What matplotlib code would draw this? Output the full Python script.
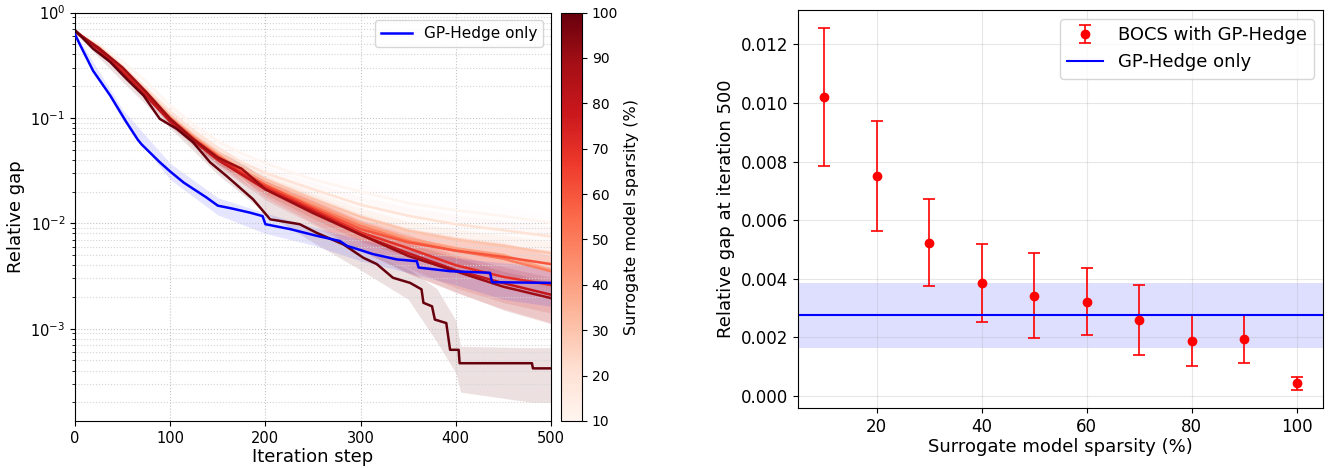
import numpy as np
import matplotlib.pyplot as plt
from matplotlib import cm, colors

# %% data
sparsity = [10, 20, 30, 40, 50, 60, 70, 80, 90]
iters = [0, 25, 50, 75, 100, 125, 150, 175, 200, 250, 300, 350, 400, 450, 500]
gap = {
    10: [0.66, 0.50, 0.34, 0.22, 0.13, 0.085, 0.060, 0.046, 0.037, 0.026, 0.020, 0.0155, 0.0133, 0.0117, 0.0101],
    20: [0.65, 0.48, 0.31, 0.19, 0.115, 0.075, 0.052, 0.038, 0.030, 0.021, 0.015, 0.0118, 0.0098, 0.0086, 0.0075],
    30: [0.65, 0.47, 0.30, 0.18, 0.105, 0.068, 0.047, 0.034, 0.026, 0.017, 0.0115, 0.0085, 0.0070, 0.0061, 0.0052],
    40: [0.65, 0.46, 0.29, 0.175, 0.100, 0.066, 0.045, 0.032, 0.024, 0.0155, 0.0100, 0.0072, 0.0058, 0.0050, 0.0036],
    50: [0.66, 0.46, 0.29, 0.17, 0.100, 0.064, 0.044, 0.031, 0.023, 0.0145, 0.0094, 0.0068, 0.0055, 0.0046, 0.0035],
    60: [0.66, 0.45, 0.28, 0.17, 0.098, 0.063, 0.043, 0.031, 0.023, 0.0140, 0.0088, 0.0066, 0.0055, 0.0048, 0.0041],
    70: [0.67, 0.45, 0.28, 0.165, 0.095, 0.062, 0.042, 0.030, 0.022, 0.0135, 0.0082, 0.0058, 0.0040, 0.0031, 0.0026],
    80: [0.67, 0.44, 0.27, 0.16, 0.092, 0.060, 0.040, 0.029, 0.021, 0.0130, 0.0078, 0.0052, 0.0036, 0.0027, 0.0021],
    90: [0.66, 0.46, 0.30, 0.175, 0.098, 0.062, 0.042, 0.033, 0.021, 0.0125, 0.0078, 0.0049, 0.0035, 0.0025, 0.00195],
}
# relative half-width of the shaded band
spread = {
    10: [0.03, 0.04, 0.05, 0.07, 0.09, 0.10, 0.12, 0.14, 0.15, 0.17, 0.19, 0.20, 0.21, 0.22, 0.23],
    20: [0.03, 0.04, 0.05, 0.07, 0.09, 0.10, 0.12, 0.14, 0.15, 0.17, 0.19, 0.21, 0.22, 0.24, 0.25],
    30: [0.03, 0.04, 0.05, 0.07, 0.09, 0.11, 0.13, 0.15, 0.17, 0.19, 0.21, 0.23, 0.25, 0.27, 0.29],
    40: [0.03, 0.04, 0.05, 0.07, 0.09, 0.11, 0.13, 0.15, 0.18, 0.21, 0.24, 0.27, 0.30, 0.33, 0.35],
    50: [0.03, 0.04, 0.05, 0.07, 0.09, 0.11, 0.13, 0.16, 0.19, 0.23, 0.27, 0.31, 0.35, 0.39, 0.42],
    60: [0.03, 0.04, 0.05, 0.07, 0.09, 0.11, 0.13, 0.15, 0.18, 0.21, 0.24, 0.27, 0.30, 0.33, 0.35],
    70: [0.03, 0.04, 0.05, 0.07, 0.09, 0.11, 0.14, 0.17, 0.20, 0.25, 0.30, 0.35, 0.39, 0.43, 0.46],
    80: [0.03, 0.04, 0.05, 0.07, 0.09, 0.11, 0.14, 0.17, 0.20, 0.25, 0.30, 0.35, 0.39, 0.43, 0.46],
    90: [0.03, 0.04, 0.05, 0.07, 0.09, 0.11, 0.14, 0.17, 0.20, 0.24, 0.28, 0.32, 0.36, 0.40, 0.43],
}

it100 = [0, 19, 37, 54, 72, 89, 107, 124, 142, 159, 177, 187, 205, 236, 254, 282, 303, 317, 334,
         352, 364, 366, 375, 378, 390, 394, 403, 404, 480, 481, 500]
gap100 = [0.68, 0.454, 0.339, 0.235, 0.163, 0.098, 0.0785, 0.0587, 0.0378, 0.0282, 0.0203, 0.0169,
          0.0109, 0.0098, 0.0081, 0.0063, 0.0047, 0.0041, 0.00304, 0.00272, 0.00236, 0.00176, 0.00163,
          0.00122, 0.00113, 0.00063, 0.00063, 0.00047, 0.00047, 0.00042, 0.00042]
band100_it = [0, 50, 100, 150, 200, 250, 300, 350, 380, 400, 405, 480, 500]
band100_lo = [0.64, 0.22, 0.080, 0.029, 0.0125, 0.0066, 0.0036, 0.0019, 0.00075, 0.00038, 0.00025, 0.00020, 0.00020]
band100_hi = [0.72, 0.27, 0.110, 0.040, 0.0170, 0.0095, 0.0058, 0.0037, 0.0024, 0.0012, 0.00068, 0.00066, 0.00066]

it_gp = [0, 5, 19, 37, 54, 66, 70, 89, 100, 114, 125, 138, 150, 165, 184, 197, 200, 226, 254,
         278, 286, 313, 338, 359, 361, 394, 436, 438, 500]
gap_gp = [0.62, 0.50, 0.28, 0.163, 0.091, 0.062, 0.056, 0.038, 0.031, 0.0244, 0.021, 0.0176, 0.0147,
          0.0138, 0.0126, 0.0117, 0.0098, 0.0088, 0.0076, 0.0068, 0.0061, 0.0051, 0.00454, 0.00437,
          0.0038, 0.00351, 0.00339, 0.00276, 0.00272]
band_gp_it = [0, 50, 100, 150, 200, 250, 300, 350, 400, 450, 500]
band_gp_lo = [0.60, 0.095, 0.026, 0.0120, 0.0080, 0.0062, 0.0044, 0.0034, 0.0026, 0.0019, 0.00163]
band_gp_hi = [0.64, 0.120, 0.037, 0.0175, 0.0125, 0.0092, 0.0070, 0.0056, 0.0047, 0.0042, 0.00383]

# right panel: gap at iteration 500
sp_all = [10, 20, 30, 40, 50, 60, 70, 80, 90, 100]
final_gap = [0.0102, 0.0075, 0.00523, 0.00384, 0.00342, 0.00321, 0.00258, 0.00189, 0.00194, 0.00043]
final_lo = [0.00785, 0.00564, 0.00375, 0.00251, 0.00198, 0.00209, 0.00139, 0.00101, 0.00111, 0.00022]
final_hi = [0.01255, 0.00938, 0.00673, 0.00517, 0.00487, 0.00435, 0.00377, 0.00277, 0.00278, 0.00066]
gp_final = 0.00275
gp_final_lo = 0.00163
gp_final_hi = 0.00384

# %%
fig = plt.figure(figsize=(13.36, 4.68), dpi=100)
ax1 = fig.add_axes([75 / 1336, 1 - 421 / 468, 476 / 1336, 408.5 / 468])
cax = fig.add_axes([561 / 1336, 1 - 421 / 468, 21 / 1336, 408.5 / 468])
ax2 = fig.add_axes([798 / 1336, 1 - 408 / 468, 525 / 1336, 398 / 468])

norm = colors.Normalize(vmin=10, vmax=100)
cmap = plt.get_cmap('Reds')

for s in sparsity:
    m = np.array(gap[s])
    w = np.array(spread[s])
    ax1.fill_between(iters, m * (1 - w), m * (1 + w), color=cmap(norm(s)), alpha=0.12, lw=0)
ax1.fill_between(band100_it, band100_lo, band100_hi, color=cmap(norm(100)), alpha=0.12, lw=0)
ax1.fill_between(band_gp_it, band_gp_lo, band_gp_hi, color='blue', alpha=0.1, lw=0)

for s in sparsity:
    ax1.plot(iters, gap[s], color=cmap(norm(s)), lw=1.8)
ax1.plot(it100, gap100, color=cmap(norm(100)), lw=1.8)
ax1.plot(it_gp, gap_gp, color='blue', lw=1.8, label='GP-Hedge only', zorder=5)

ax1.set_yscale('log')
ax1.set_xlim(0, 500)
ax1.set_ylim(1.33e-4, 1.0)
ax1.grid(True, which='major', ls=':', color='#c4c4c4', lw=0.8)
ax1.grid(True, which='minor', axis='y', ls=':', color='#d4d4d4', lw=0.8)
ax1.set_xlabel('Iteration step', fontsize=13, labelpad=2)
ax1.set_ylabel('Relative gap', fontsize=13)
ax1.tick_params(labelsize=10.5)
ax1.legend(loc='upper right', fontsize=11)

sm = cm.ScalarMappable(norm=norm, cmap=cmap)
cb = fig.colorbar(sm, cax=cax, ticks=np.arange(10, 101, 10))
cb.ax.tick_params(labelsize=10)
cb.set_label('Surrogate model sparsity (%)', fontsize=11.5)

# %%
err = [np.array(final_gap) - np.array(final_lo), np.array(final_hi) - np.array(final_gap)]
ax2.axhspan(gp_final_lo, gp_final_hi, color='blue', alpha=0.13, lw=0)
eb = ax2.errorbar(sp_all, final_gap, yerr=err, fmt='o', color='red', ms=6, capsize=4,
                  elinewidth=1.2, capthick=1.2, label='BOCS with GP-Hedge')
hl = ax2.axhline(gp_final, color='blue', lw=1.5, label='GP-Hedge only')
ax2.set_xlim(5, 105)
ax2.set_ylim(-0.00041, 0.01317)
ax2.grid(True, alpha=0.3)
ax2.set_xlabel('Surrogate model sparsity (%)', fontsize=13, labelpad=2)
ax2.set_ylabel('Relative gap at iteration 500', fontsize=13)
ax2.tick_params(labelsize=12)
ax2.legend([eb, hl], ['BOCS with GP-Hedge', 'GP-Hedge only'], loc='upper right', fontsize=13)

plt.savefig('out.png', dpi=100)
